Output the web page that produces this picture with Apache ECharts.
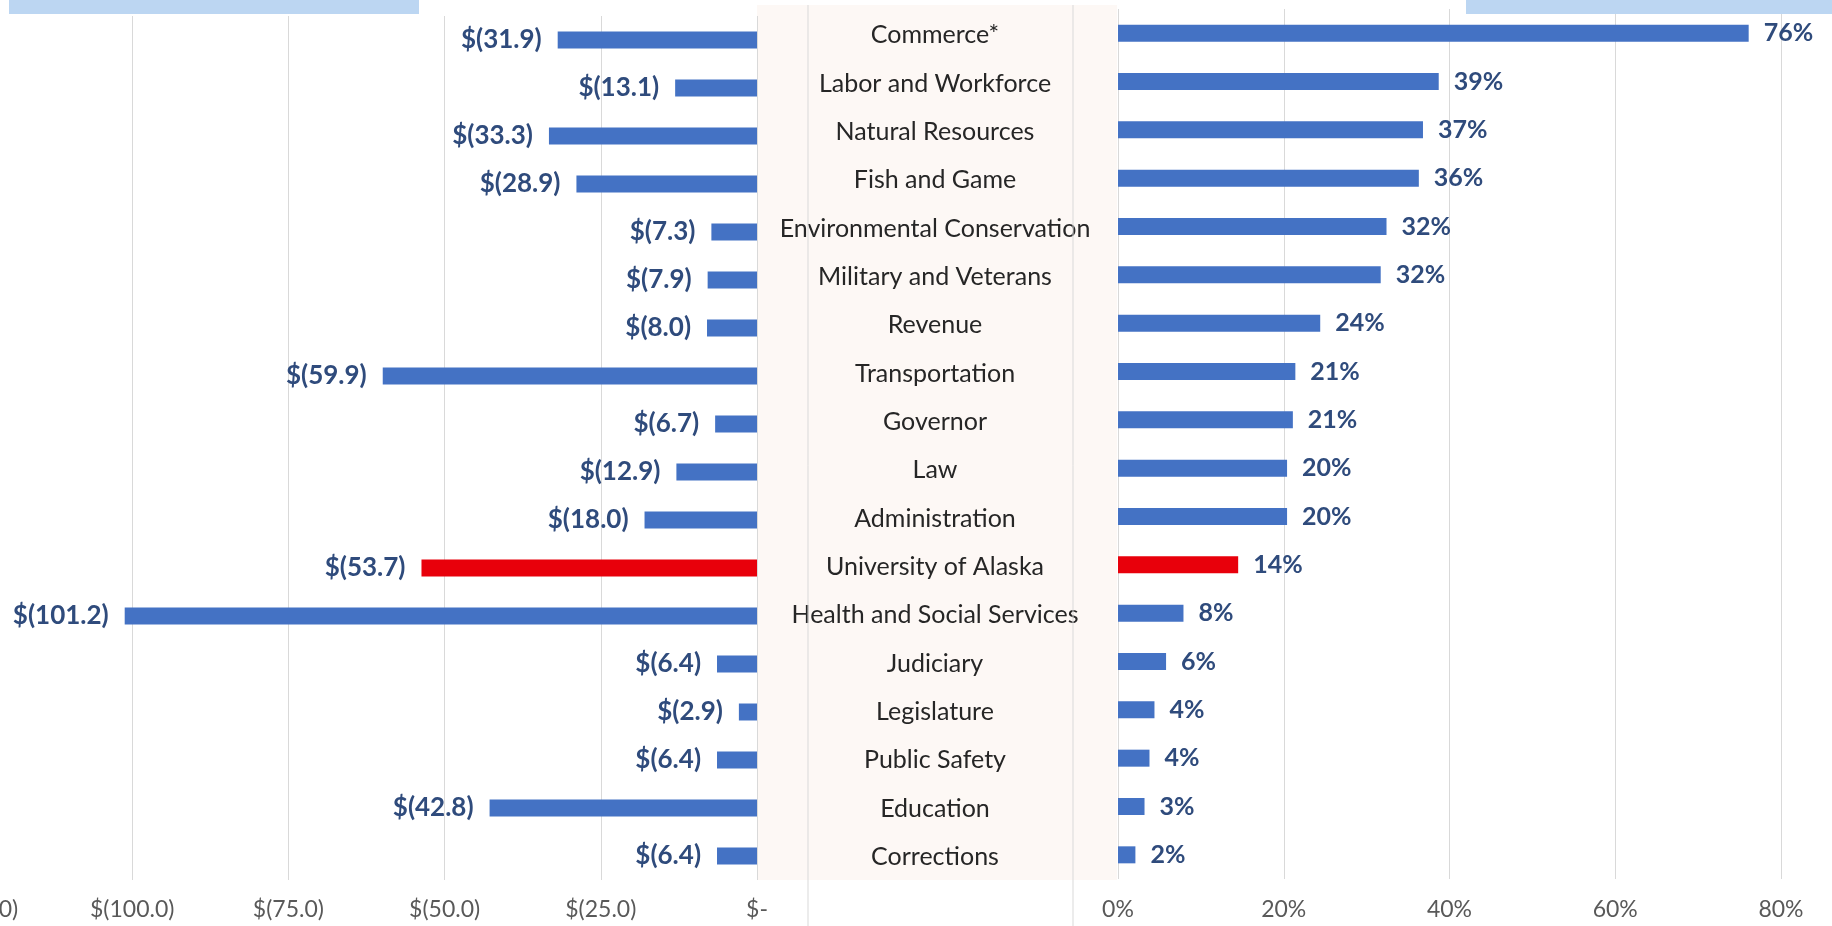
<!DOCTYPE html>
<html>
<head>
<meta charset="UTF-8">
<title>Budget cuts by department</title>
<script src="https://cdn.jsdelivr.net/npm/echarts@6/dist/echarts.min.js"></script>
<style>
  html, body { margin: 0; padding: 0; background: #fff; }
  #main { width: 1832px; height: 926px; }
</style>
</head>
<body>
<div id="main"></div>
<script>
// departments, top to bottom
var departments = ['Commerce*', 'Labor and Workforce', 'Natural Resources', 'Fish and Game',
  'Environmental Conservation', 'Military and Veterans', 'Revenue', 'Transportation', 'Governor',
  'Law', 'Administration', 'University of Alaska', 'Health and Social Services', 'Judiciary',
  'Legislature', 'Public Safety', 'Education', 'Corrections'];

// cut in $ millions (left panel)
var cutMillions = [-31.9, -13.1, -33.3, -28.9, -7.3, -7.9, -8.0, -59.9, -6.7,
  -12.9, -18.0, -53.7, -101.2, -6.4, -2.9, -6.4, -42.8, -6.4];

// cut as share of budget (right panel)
var cutPercent = [0.761, 0.387, 0.368, 0.363, 0.324, 0.317, 0.244, 0.214, 0.211,
  0.204, 0.204, 0.145, 0.079, 0.058, 0.044, 0.038, 0.032, 0.021];

var leftTickValues = [-125, -100, -75, -50, -25, 0];
var leftTickLabels = ['$(125.0)', '$(100.0)', '$(75.0)', '$(50.0)', '$(25.0)', '$-'];
var rightTickValues = [0, 0.2, 0.4, 0.6, 0.8];
var rightTickLabels = ['0%', '20%', '40%', '60%', '80%'];

var highlight = 'University of Alaska';

var blue = '#4472c4';
var red = '#e8000b';
var labelBlue = '#2f4b7c';
var font = 'Lato';

function barData(values) {
  return values.map(function (v, i) {
    return departments[i] === highlight ? { value: v, itemStyle: { color: red } } : v;
  });
}

var myChart = echarts.init(document.getElementById('main'));

var option = {
  animation: false,
  backgroundColor: '#fff',
  textStyle: { fontFamily: font },
  graphic: [
    { type: 'rect', shape: { x: 9, y: 0, width: 410, height: 14 }, style: { fill: '#bcd6f2' }, z: 10 },
    { type: 'rect', shape: { x: 1466, y: 0, width: 366, height: 14 }, style: { fill: '#bcd6f2' }, z: 10 },
    { type: 'line', shape: { x1: 808, y1: 5, x2: 808, y2: 926 }, style: { stroke: '#d9d9d9', lineWidth: 1 }, z: 1 },
    { type: 'line', shape: { x1: 1073, y1: 5, x2: 1073, y2: 926 }, style: { stroke: '#d9d9d9', lineWidth: 1 }, z: 1 }
  ],
  grid: [
    { left: -24, right: 1075, top: 16, bottom: 46, outerBoundsMode: 'none' },
    { left: 757, right: 715, top: 5, bottom: 46, show: true, backgroundColor: '#fdf8f5', borderWidth: 0, z: 0, outerBoundsMode: 'none' },
    { left: 1118, right: 51, top: 9, bottom: 47, outerBoundsMode: 'none' },
    // holds the department names in the middle column
    { left: 1118, right: 51, top: 11, bottom: 45, outerBoundsMode: 'none' }
  ],
  xAxis: [
    {
      gridIndex: 0, type: 'value', min: -125, max: 0, interval: 25,
      axisLine: { show: false }, axisTick: { show: false },
      splitLine: { lineStyle: { color: '#d9d9d9' } },
      axisLabel: {
        margin: 18, color: '#595959', fontSize: 23, fontFamily: font,
        formatter: function (v) { return leftTickLabels[leftTickValues.indexOf(v)]; }
      }
    },
    { gridIndex: 1, type: 'value', show: false },
    {
      gridIndex: 2, type: 'value', min: 0, max: 0.8, interval: 0.2,
      axisLine: { show: false }, axisTick: { show: false },
      splitLine: { lineStyle: { color: '#d9d9d9' } },
      axisLabel: {
        margin: 19, color: '#595959', fontSize: 23, fontFamily: font,
        formatter: function (v) {
          var i = rightTickValues.findIndex(function (t) { return Math.abs(t - v) < 1e-6; });
          return rightTickLabels[i];
        }
      }
    },
    { gridIndex: 3, type: 'value', show: false }
  ],
  yAxis: [
    { gridIndex: 0, type: 'category', data: departments, inverse: true, show: false },
    { gridIndex: 1, type: 'category', data: departments, inverse: true, show: false },
    {
      gridIndex: 2, type: 'category', data: departments, inverse: true,
      axisLine: { show: false }, axisTick: { show: false }, axisLabel: { show: false }
    },
    {
      gridIndex: 3, type: 'category', data: departments, inverse: true, position: 'left',
      axisLine: { show: false }, axisTick: { show: false },
      axisLabel: {
        interval: 0, margin: 183, align: 'center',
        color: '#262626', fontSize: 25, fontFamily: font
      }
    }
  ],
  series: [
    {
      type: 'bar', xAxisIndex: 0, yAxisIndex: 0, barWidth: 17,
      itemStyle: { color: blue },
      data: barData(cutMillions),
      label: {
        show: true, position: 'left', distance: 16,
        color: labelBlue, fontWeight: 'bold', fontSize: 26, fontFamily: font,
        formatter: function (p) { return '$(' + Math.abs(p.value).toFixed(1) + ')'; }
      }
    },
    {
      type: 'bar', xAxisIndex: 2, yAxisIndex: 2, barWidth: 17,
      itemStyle: { color: blue },
      data: barData(cutPercent),
      label: {
        show: true, position: 'right', distance: 15,
        color: labelBlue, fontWeight: 'bold', fontSize: 25, fontFamily: font,
        formatter: function (p) { return Math.round(p.value * 100) + '%'; }
      }
    }
  ]
};

myChart.setOption(option);
</script>
</body>
</html>
